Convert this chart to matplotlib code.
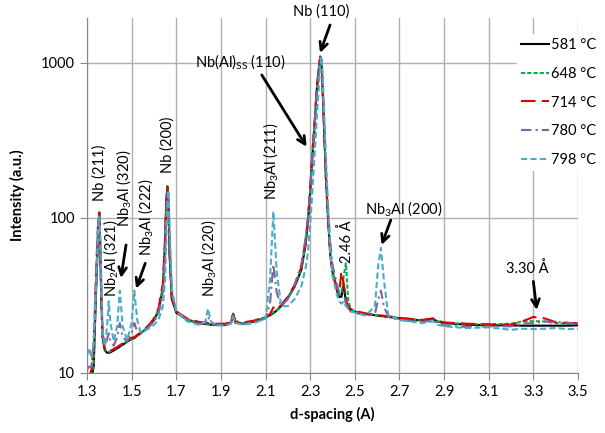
import numpy as np
import matplotlib.pyplot as plt
from matplotlib.ticker import FixedLocator, FixedFormatter, NullLocator

plt.rcParams['font.family'] = ['Lato', 'DejaVu Sans']
plt.rcParams['mathtext.fontset'] = 'custom'
plt.rcParams['mathtext.rm'] = 'Lato'

#%% data
d_spacing = [1.300, 1.310, 1.320, 1.330, 1.340, 1.345, 1.350, 1.355, 1.360, 1.365,
             1.370, 1.380, 1.390, 1.397, 1.405, 1.420, 1.435, 1.447, 1.460, 1.480,
             1.500, 1.512, 1.525, 1.540, 1.560, 1.580, 1.600, 1.620, 1.640, 1.650,
             1.655, 1.660, 1.665, 1.670, 1.680, 1.700, 1.750, 1.800, 1.830, 1.842,
             1.855, 1.880, 1.920, 1.945, 1.955, 1.965, 2.000, 2.050, 2.100, 2.120,
             2.135, 2.150, 2.170, 2.200, 2.230, 2.260, 2.280, 2.290, 2.300, 2.310,
             2.320, 2.330, 2.340, 2.345, 2.350, 2.355, 2.360, 2.370, 2.380, 2.390,
             2.400, 2.420, 2.430, 2.440, 2.450, 2.460, 2.470, 2.480, 2.500, 2.550,
             2.590, 2.605, 2.617, 2.630, 2.650, 2.700, 2.800, 2.850, 2.870, 2.900,
             3.000, 3.100, 3.200, 3.250, 3.300, 3.350, 3.400, 3.450, 3.500]

I_581 = [8, 8.5, 9.2, 11, 32, 50, 85, 108, 60, 28,
         17, 14, 13.5, 13.5, 13.6, 14, 14.4, 14.8, 15.2, 15.9,
         16.6, 16.8, 17.4, 18, 19, 20.3, 22, 25, 35, 70,
         120, 160, 125, 60, 30, 24.5, 22, 21, 20.7, 20.6,
         20.5, 20.4, 20.4, 21, 24, 21.2, 20.8, 21.5, 22.8, 23.6,
         24.3, 25.3, 27, 30.5, 36, 46, 68, 95, 145, 250,
         400, 680, 950, 1100, 1050, 720, 470, 190, 100, 58,
         45, 34, 31, 31, 37, 29, 26.5, 25.5, 24.8, 24,
         23.6, 23.4, 23.3, 23.2, 23, 22.5, 21.8, 22.3, 21.5, 21,
         20.5, 20.3, 20.3, 20.2, 20.2, 20.2, 20.2, 20.2, 20.3]

I_648 = [8, 8.6, 9.5, 11.5, 33, 52, 88, 109, 62, 29,
         17.5, 14.2, 13.7, 13.7, 13.8, 14.2, 14.6, 15, 15.4, 16,
         16.7, 17, 17.5, 18.1, 19.1, 20.4, 22.2, 25.5, 36, 72,
         122, 160, 128, 62, 31, 24.8, 22.2, 21.1, 20.8, 20.7,
         20.6, 20.5, 20.5, 21.1, 24.2, 21.3, 20.9, 21.6, 22.9, 23.8,
         24.6, 25.5, 27.2, 30.8, 36.5, 47, 70, 98, 150, 260,
         410, 690, 960, 1100, 1060, 740, 480, 195, 103, 60,
         46, 35, 32, 33, 42, 51, 30, 26, 25, 24.1,
         23.7, 23.5, 23.4, 23.3, 23.1, 22.6, 21.9, 22.4, 21.6, 21.1,
         20.7, 20.6, 20.8, 21.5, 21.6, 21.5, 21, 20.8, 20.8]

I_714 = [9, 9.5, 10.5, 15, 40, 65, 95, 108, 55, 26,
         17, 14.2, 13.7, 13.7, 13.9, 14.3, 14.7, 15.1, 15.5, 16.2,
         16.9, 17, 17.6, 18.3, 19.3, 20.6, 22.5, 26, 38, 75,
         125, 158, 120, 58, 30, 25, 22.4, 21.4, 21.1, 21,
         20.9, 20.8, 20.8, 21.3, 24, 21.5, 21.2, 21.8, 23, 24,
         26.5, 25.5, 27.5, 31, 37, 48, 72, 100, 155, 270,
         420, 700, 970, 1090, 1040, 730, 460, 185, 100, 58,
         45, 35, 33, 45, 38, 30, 27, 26, 25.2, 24.2,
         23.8, 23.6, 23.5, 23.4, 23.2, 22.7, 22, 22.5, 21.8, 21.2,
         20.8, 20.6, 20.5, 21.5, 23, 22.5, 21.3, 21, 21]

I_780 = [10.5, 11, 11, 16, 40, 60, 90, 104, 60, 30,
         18, 15, 16.5, 18, 16, 15, 17, 21, 17, 16,
         18, 21, 18.5, 18.3, 19, 20, 21.5, 24, 33, 60,
         100, 150, 140, 75, 33, 25, 22, 20.8, 21, 23,
         21, 20.5, 20.3, 21, 23.5, 21, 20.7, 21.2, 22.5, 28,
         50, 33, 27, 30, 37, 50, 75, 100, 150, 260,
         400, 650, 920, 1080, 1060, 780, 520, 230, 115, 70,
         50, 37, 33, 34, 33, 28, 26, 25, 24.5, 23.5,
         24, 30, 34, 27, 23, 22, 21.3, 21.8, 21, 20.3,
         19.8, 20, 20, 20.8, 21, 21.5, 21.3, 21.2, 20.5]

I_798 = [13, 14.5, 12.5, 16, 35, 55, 85, 102, 75, 35,
         18, 15, 20, 29, 21, 16, 20, 34, 20, 16.3,
         21, 34, 22, 18.3, 18.8, 19.5, 20.5, 22, 27, 40,
         70, 120, 150, 90, 35, 25, 21.5, 20.5, 21.5, 26,
         21.5, 20.3, 20.2, 20.8, 23, 21, 20.5, 21, 22.5, 40,
         110, 45, 27, 27, 30, 36, 48, 60, 90, 150,
         260, 450, 750, 950, 1100, 900, 600, 250, 120, 60,
         42, 32, 29, 28, 29, 27, 26, 25, 24.5, 23.5,
         27, 50, 64, 40, 23.5, 22, 21, 21.5, 20.5, 20,
         19.5, 19.7, 19, 19.3, 19.2, 19.3, 19.5, 19.2, 19.3]

labels = ['581 °C', '648 °C', '714 °C', '780 °C', '798 °C']
series = [I_581, I_648, I_714, I_780, I_798]
colors = ['#000000', '#00b050', '#e00000', '#8064a2', '#4bacc6']
styles = ['-', (0, (2, 1)), (0, (7, 3)), (0, (5, 2, 1, 2)), (0, (3, 1.5))]
widths = [1.5, 1.5, 1.5, 1.5, 1.5]

fig = plt.figure(figsize=(6.05, 4.33), dpi=100)
ax = fig.add_axes([87/605, 1-373/433, (578-87)/605, (373-18)/433])

for I, lab, c, ls, lw in zip(series, labels, colors, styles, widths):
    ax.plot(d_spacing, I, color=c, linestyle=ls, lw=lw, label=lab)

ax.set_yscale('log')
ax.set_xlim(1.3, 3.5)
ax.set_ylim(10, 1950)
ax.xaxis.set_major_locator(FixedLocator(np.arange(1.3, 3.51, 0.2)))
ax.set_xticklabels(['%.1f' % v for v in np.arange(1.3, 3.51, 0.2)])
ax.yaxis.set_major_locator(FixedLocator([10, 100, 1000]))
ax.yaxis.set_major_formatter(FixedFormatter(['10', '100', '1000']))
ax.yaxis.set_minor_locator(NullLocator())
ax.grid(True, color='#b0b0b0', lw=1)
ax.set_axisbelow(True)
for s in ['top', 'right']:
    ax.spines[s].set_visible(False)
for s in ['left', 'bottom']:
    ax.spines[s].set_color('#868686')
ax.tick_params(colors='#868686', labelcolor='black', labelsize=10.5, length=5)
ax.set_xlabel('d-spacing (A)', fontweight='bold', fontsize=10.5, labelpad=6)
ax.set_ylabel('Intensity (a.u.)', fontweight='bold', fontsize=10.5, labelpad=12)

# peak labels
fs = 10.5
ax.text(1.354, 128, 'Nb (211)', rotation=90, ha='center', va='bottom', fontsize=fs)
ax.text(1.407, 31, 'Nb$_2$Al (321)', rotation=90, ha='center', va='bottom', fontsize=fs)
ax.text(1.466, 87, 'Nb$_3$Al (320)', rotation=90, ha='center', va='bottom', fontsize=fs)
ax.text(1.564, 57, 'Nb$_3$Al (222)', rotation=90, ha='center', va='bottom', fontsize=fs)
ax.text(1.663, 195, 'Nb (200)', rotation=90, ha='center', va='bottom', fontsize=fs)
ax.text(1.847, 31, 'Nb$_3$Al (220)', rotation=90, ha='center', va='bottom', fontsize=fs)
ax.text(2.124, 131, 'Nb$_3$Al (211)', rotation=90, ha='center', va='bottom', fontsize=fs)
ax.text(2.465, 51, '2.46 Å', rotation=90, ha='center', va='bottom', fontsize=fs)
ax.text(2.72, 113, 'Nb$_3$Al (200)', ha='center', va='center', fontsize=fs)
ax.text(3.271, 47, '3.30 Å', ha='center', va='center', fontsize=fs)
ax.text(2.35, 2134, 'Nb (110)', ha='center', va='center', fontsize=fs)
ax.text(1.985, 1014, r'Nb(Al)$_{\mathrm{SS}}$ (110)', ha='center', va='center', fontsize=fs)

arrows = [((2.389, 1758), (2.344, 1161)),
          ((2.083, 837), (2.284, 288)),
          ((1.475, 67), (1.452, 41)),
          ((1.561, 51), (1.520, 35)),
          ((2.661, 97), (2.620, 67)),
          ((3.300, 39), (3.315, 25.5))]
for start, end in arrows:
    ax.annotate('', xy=end, xytext=start,
                arrowprops=dict(arrowstyle='->', lw=2, color='k', mutation_scale=14,
                                shrinkA=0, shrinkB=0))

leg = ax.legend(loc='upper left', bbox_to_anchor=(517/605, 1-34/433),
                bbox_transform=fig.transFigure, fontsize=fs, frameon=True,
                fancybox=False, edgecolor='none', facecolor='white', framealpha=1,
                handlelength=1.9, handletextpad=0.15, labelspacing=1.0,
                borderaxespad=0, borderpad=0.3)

plt.savefig('out.png', dpi=100)
